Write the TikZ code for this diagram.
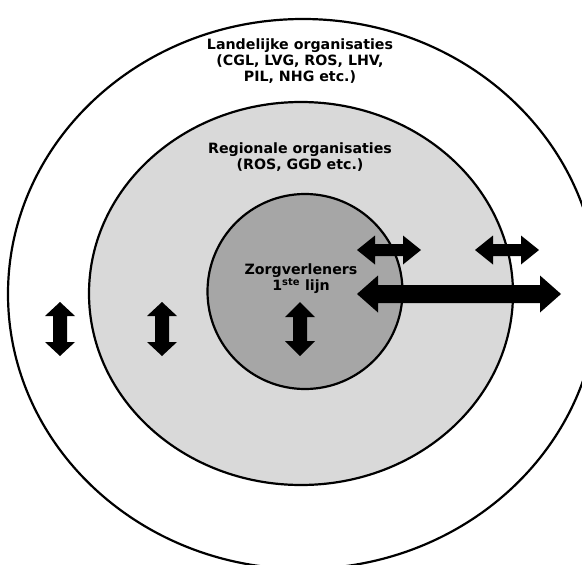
\documentclass[tikz,border=0pt]{standalone}
\usepackage{fontspec}
\setmainfont{DejaVu Sans}
\definecolor{ringlight}{HTML}{D9D9D9}
\definecolor{ringdark}{HTML}{A6A6A6}
% vertical double block arrow: x, ytop, ybottom, shaft half, head half, head length
\newcommand\myvarrow[6]{%
  \fill[black] (#1-#4,#2+#6) -- (#1-#5,#2+#6) -- (#1,#2) -- (#1+#5,#2+#6) -- (#1+#4,#2+#6)
   -- (#1+#4,#3-#6) -- (#1+#5,#3-#6) -- (#1,#3) -- (#1-#5,#3-#6) -- (#1-#4,#3-#6) -- cycle;}
% horizontal double block arrow: y, xleft, xright, shaft half, head half, head length
\newcommand\myharrow[6]{%
  \fill[black] (#2+#6,#1-#4) -- (#2+#6,#1-#5) -- (#2,#1) -- (#2+#6,#1+#5) -- (#2+#6,#1+#4)
   -- (#3-#6,#1+#4) -- (#3-#6,#1+#5) -- (#3,#1) -- (#3-#6,#1-#5) -- (#3-#6,#1-#4) -- cycle;}
\begin{document}
\begin{tikzpicture}[x=1pt,y=-1pt,
  ring/.style={draw=black,line width=2.2pt},
  lbl/.style={font=\bfseries\fontsize{14.2}{16}\selectfont,align=center,inner sep=0pt}]
\useasboundingbox (0,0) rectangle (582,565);
\clip (0,0) rectangle (582,565);
\fill[white] (0,0) rectangle (582,565);
\draw[ring,fill=white] (303,294) ellipse [x radius=295,y radius=275];
\draw[ring,fill=ringlight] (301,293.5) ellipse [x radius=212,y radius=191.5];
\draw[ring,fill=ringdark] (305,291.5) circle [radius=97.5];
\node[lbl] (landelijk) at (300,61) {Landelijke organisaties\\(CGL, LVG, ROS, LHV,\\PIL, NHG etc.)};
\node[lbl] (regionaal) at (300,157) {Regionale organisaties\\(ROS, GGD etc.)};
\node[lbl] (zorg) at (301,279) {Zorgverleners\\1\textsuperscript{ste} lijn};
\myvarrow{60}{302}{356}{7}{15}{14}
\myvarrow{162}{302}{356}{7}{15}{14}
\myvarrow{300}{302}{356}{7}{15}{15}
\myharrow{250}{357}{421}{6}{14.5}{18}
\myharrow{250}{475}{539}{6}{14.5}{18}
\myharrow{294}{357}{561}{9}{18.5}{21}
\end{tikzpicture}
\end{document}
